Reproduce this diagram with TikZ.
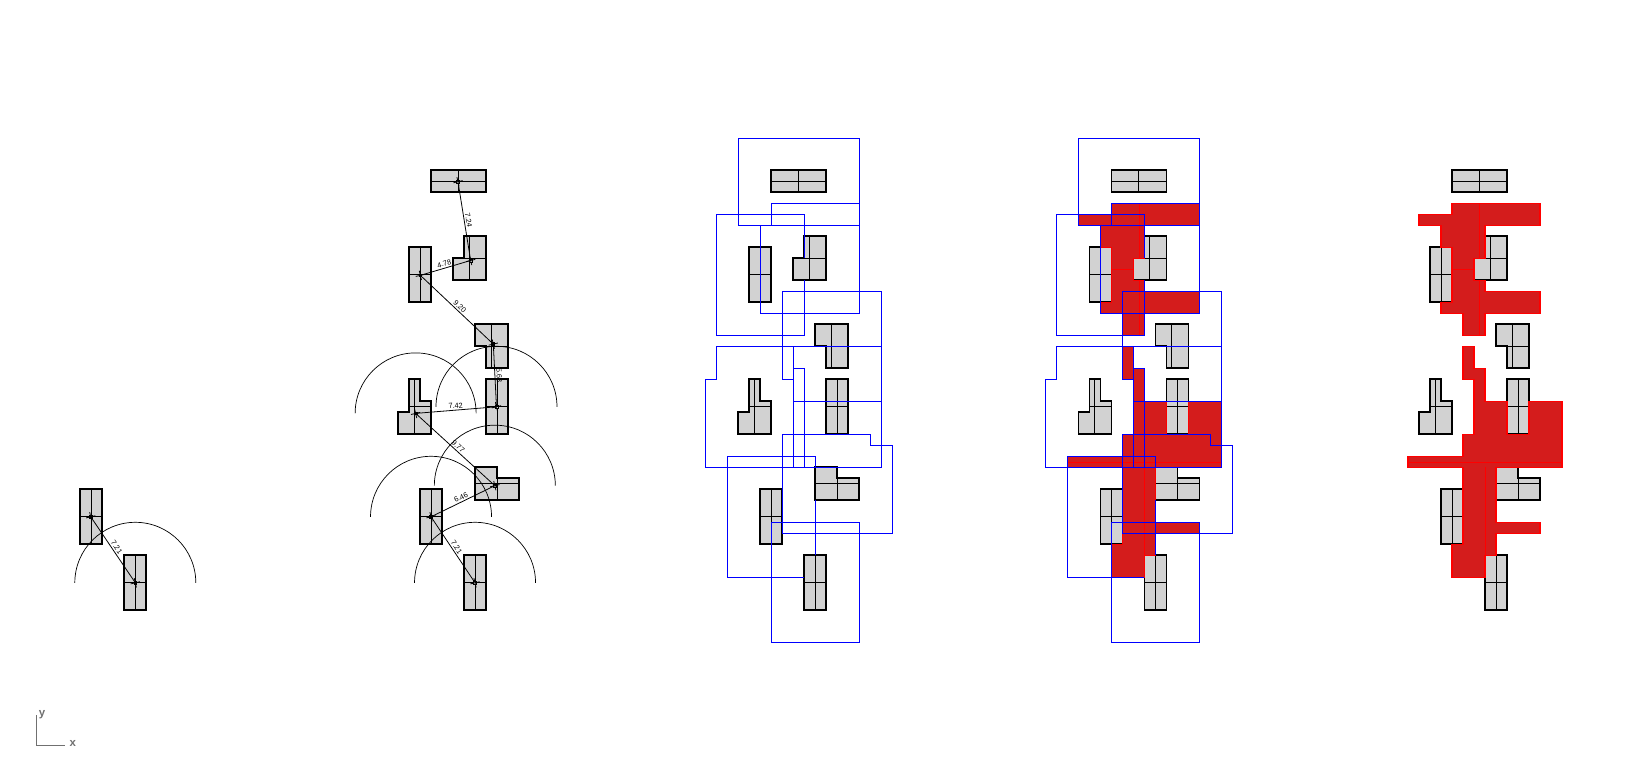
\documentclass[tikz,border=0pt]{standalone}
\usepackage{fontspec}
\setmainfont{Liberation Sans}
\usetikzlibrary{positioning}

\definecolor{blockgray}{HTML}{D2D2D2}
\definecolor{zonefill}{HTML}{D41C1C}
\definecolor{axisgray}{HTML}{707070}

\begin{document}
\begin{tikzpicture}[x=0.22cm,y=-0.22cm,line join=miter,
  block/.style={draw=black,line width=1pt,fill=blockgray},
  cell/.style={draw=black,line width=0.45pt},
  offs/.style={draw=blue,line width=0.5pt},
  zone/.style={draw=red,line width=0.85pt,fill=zonefill},
  seam/.style={draw=red,line width=0.3pt},
  link/.style={draw=black,line width=0.45pt},
  reach/.style={draw=black,line width=0.4pt},
  hub/.style={draw=black,line width=0.4pt,inner sep=0pt,minimum size=1.6pt},
  dist/.style={sloped,above,inner sep=0.8pt,font=\fontsize{4.2}{4.2}\selectfont},
  axtext/.style={text=axisgray,inner sep=0pt,font=\fontsize{6.5}{6.5}\selectfont\bfseries}]
\useasboundingbox (-64.12,-12.48) rectangle (84.6,58.52);

% buildings, four full columns
\foreach \cx in {-6.806,0,6.8,13.614} {
\begin{scope}[xshift=\cx cm]
\draw[block] (6,3) rectangle (11,5);
\draw[cell] (8.5,3) -- (8.5,5) (6,4) -- (11,4);
\draw[block] (4,10) rectangle (6,15);
\draw[cell] (5,10) -- (5,15) (4,12.5) -- (6,12.5);
\draw[block] (9,9) -- (11,9) -- (11,13) -- (8,13) -- (8,11) -- (9,11) -- cycle;
\draw[cell] (9.5,9) -- (9.5,13) (9,11) -- (11,11);
\draw[block] (10,17) -- (13,17) -- (13,21) -- (11,21) -- (11,19) -- (10,19) -- cycle;
\draw[cell] (11.5,17) -- (11.5,21) (11,19) -- (13,19);
\draw[block] (11,22) rectangle (13,27);
\draw[cell] (12,22) -- (12,27) (11,24.5) -- (13,24.5);
\draw[block] (4,22) -- (5,22) -- (5,24) -- (6,24) -- (6,27) -- (3,27) -- (3,25) -- (4,25) -- cycle;
\draw[cell] (4.5,22) -- (4.5,27) (4,24.5) -- (6,24.5);
\draw[block] (10,30) -- (12,30) -- (12,31) -- (14,31) -- (14,33) -- (10,33) -- cycle;
\draw[cell] (12,31) -- (12,33) (10,31.5) -- (14,31.5);
\draw[block] (5,32) rectangle (7,37);
\draw[cell] (6,32) -- (6,37) (5,34.5) -- (7,34.5);
\draw[block] (9,38) rectangle (11,43);
\draw[cell] (10,38) -- (10,43) (9,40.5) -- (11,40.5);
\end{scope}
}

% first column, last pair only
\begin{scope}[xshift=-13.6cm]
\draw[block] (5,32) rectangle (7,37);
\draw[cell] (6,32) -- (6,37) (5,34.5) -- (7,34.5);
\draw[block] (9,38) rectangle (11,43);
\draw[cell] (10,38) -- (10,43) (9,40.5) -- (11,40.5);
\node (h1) [hub,fill=black] at (5.95,34.5) {};
\node (i1) [hub,fill=white] at (10,40.5) {};
\draw[link] (h1) -- node[dist] {7.21} (i1);
\draw[reach] (i1.center) ++(1.21cm,0) arc[start angle=0,end angle=180,radius=1.21cm];
\end{scope}

% second column, distances and reach
\begin{scope}[xshift=-6.806cm]
\node (a2) [hub,fill=white] at (8.45,4.04) {};
\node (c2) [hub,fill=white] at (9.6,11.2) {};
\node (b2) [hub,fill=black] at (5.03,12.55) {};
\node (d2) [hub,fill=black] at (11.66,18.8) {};
\node (e2) [hub,fill=white] at (11.95,24.5) {};
\node (f2) [hub,fill=black] at (4.6,25.1) {};
\node (g2) [hub,fill=white] at (11.8,31.67) {};
\node (h2) [hub,fill=black] at (6,34.5) {};
\node (i2) [hub,fill=white] at (10,40.5) {};
\draw[link] (a2) -- node[dist] {7.24} (c2);
\draw[link] (b2) -- node[dist] {4.78} (c2);
\draw[link] (b2) -- node[dist] {9.20} (d2);
\draw[link] (d2) -- node[dist] {5.68} (e2);
\draw[link] (f2) -- node[dist] {7.42} (e2);
\draw[link] (f2) -- node[dist] {9.77} (g2);
\draw[link] (h2) -- node[dist] {6.46} (g2);
\draw[link] (h2) -- node[dist] {7.21} (i2);
\foreach \n in {e2,f2,g2,h2,i2}
  \draw[reach] (\n.center) ++(1.21cm,0) arc[start angle=0,end angle=180,radius=1.21cm];
\end{scope}

% small ticks through every hub
\foreach \n in {h1,i1,a2,b2,c2,d2,e2,f2,g2,h2,i2}
  \draw[cell] (\n.center) +(-0.42,0.1) -- +(0.42,-0.1) (\n.center) +(-0.1,-0.42) -- +(0.1,0.42);

% red zones, last two columns
\foreach \cx in {6.8,13.614} {
\begin{scope}[xshift=\cx cm]
\draw[zone] (6,6) -- (14,6) -- (14,8) -- (9,8) -- (9,11) -- (8,11) -- (8,13) -- (9,13) -- (9,14) -- (14,14) -- (14,16) -- (9,16) -- (9,18) -- (7,18) -- (7,16) -- (5,16) -- (5,15) -- (6,15) -- (6,10) -- (5,10) -- (5,8) -- (3,8) -- (3,7) -- (6,7) -- cycle;
\draw[zone] (7,19) -- (8,19) -- (8,21) -- (9,21) -- (9,24) -- (11,24) -- (11,27) -- (13,27) -- (13,24) -- (16,24) -- (16,30) -- (10,30) -- (10,35) -- (14,35) -- (14,36) -- (10,36) -- (10,38) -- (9,38) -- (9,40) -- (6,40) -- (6,37) -- (7,37) -- (7,30) -- (2,30) -- (2,29) -- (7,29) -- (7,27) -- (8,27) -- (8,22) -- (7,22) -- cycle;
\draw[seam] (8.5,6) -- (8.5,11) (8.5,13) -- (8.5,18) (6,12) -- (8,12) (2,29.5) -- (16,29.5) (9,30) -- (9,38);
\end{scope}
}

% blue offsets, third and fourth columns
\foreach \cx in {0,6.8} {
\begin{scope}[xshift=\cx cm]
\draw[offs] (3,0.13) rectangle (14,8);
\draw[offs] (5,8) -- (6,8) -- (6,6) -- (14,6) -- (14,16) -- (5,16) -- cycle;
\draw[offs] (9,13) -- (9,18) -- (1,18) -- (1,7) -- (9,7) -- (9,11);
\draw[offs] (7,14) -- (16,14) -- (16,24) -- (8,24) -- (8,22) -- (7,22) -- cycle;
\draw[offs] (1,19) -- (8,19) -- (8,21) -- (9,21) -- (9,30) -- (0,30) -- (0,22) -- (1,22) -- cycle;
\draw[offs] (8,19) rectangle (16,30);
\draw[offs] (7,27) -- (15,27) -- (15,28) -- (17,28) -- (17,36) -- (7,36) -- cycle;
\draw[offs] (9,40) -- (2,40) -- (2,29) -- (10,29) -- (10,30);
\draw[offs] (10,33) -- (10,38);
\draw[offs] (6,35) rectangle (14,45.9);
\end{scope}
}

% axes
\coordinate (ax0) at (-60.82,55.27);
\coordinate (axtop) at (-60.82,52.55);
\coordinate (axend) at (-58.18,55.27);
\node (axy) [axtext] at (-60.3,52.5) {y};
\node (axx) [axtext] at (-57.5,55.1) {x};
\draw[axisgray,line width=0.45pt] (axtop) -- (ax0) -- (axend);
\end{tikzpicture}
\end{document}
